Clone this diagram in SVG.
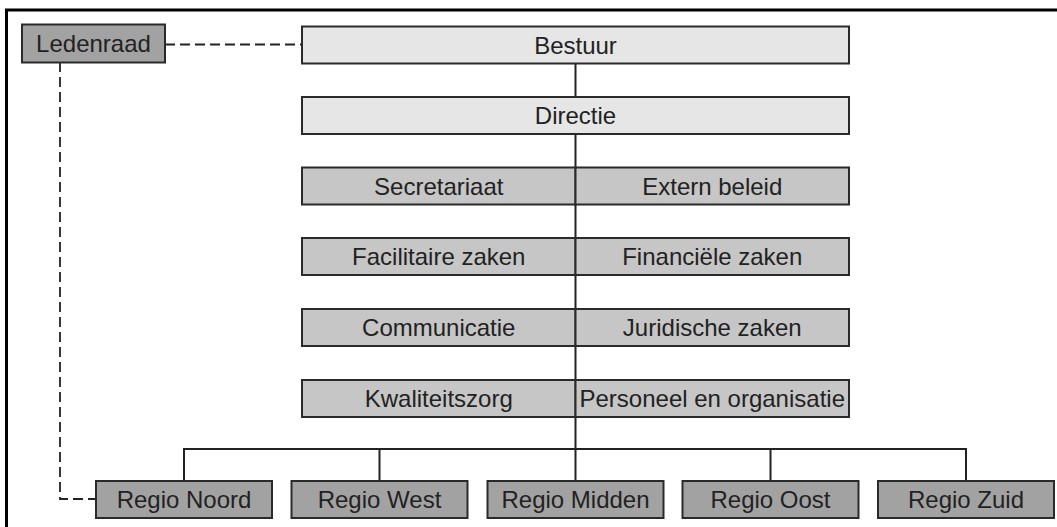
<svg xmlns="http://www.w3.org/2000/svg" width="1057" height="527" viewBox="0 0 1057 527">
<style>
.box{stroke:#2a2a2a;stroke-width:2}
.top{fill:#e6e6e6}
.dep{fill:#c6c6c6}
.reg{fill:#a2a2a2}
.t{font-family:"Liberation Sans",Arial,sans-serif;font-size:24px;fill:#222;text-anchor:middle}
.ln{stroke:#222;stroke-width:2;fill:none}
.ds{stroke:#222;stroke-width:1.8;fill:none;stroke-dasharray:10 5}
</style>
<rect x="6.5" y="10" width="1200" height="700" fill="#fff" stroke="#000" stroke-width="3"/>
<g id="connectors">
<path class="ds" d="M165 44.5H302"/>
<path class="ds" d="M60 62V499H96"/>
<path class="ln" d="M575.5 63V481"/>
<path class="ln" d="M184 481V449H966V481"/>
<path class="ln" d="M379.5 449V481M770.5 449V481"/>
</g>
<g id="ledenraad"><rect class="box reg" x="22" y="24.5" width="143" height="38"/><text class="t" x="93.5" y="52">Ledenraad</text></g>
<g id="bestuur"><rect class="box top" x="302" y="26.5" width="547" height="37"/><text class="t" x="575.5" y="53.5">Bestuur</text></g>
<g id="directie"><rect class="box top" x="302" y="97" width="547" height="37"/><text class="t" x="575.5" y="124">Directie</text></g>
<g id="secretariaat"><rect class="box dep" x="302" y="167.5" width="273.5" height="37"/><text class="t" x="438.75" y="194.5">Secretariaat</text></g>
<g id="extern-beleid"><rect class="box dep" x="575.5" y="167.5" width="273.5" height="37"/><text class="t" x="712.25" y="194.5">Extern beleid</text></g>
<g id="facilitaire-zaken"><rect class="box dep" x="302" y="238" width="273.5" height="37"/><text class="t" x="438.75" y="265">Facilitaire zaken</text></g>
<g id="financiele-zaken"><rect class="box dep" x="575.5" y="238" width="273.5" height="37"/><text class="t" x="712.25" y="265">Financiële zaken</text></g>
<g id="communicatie"><rect class="box dep" x="302" y="309" width="273.5" height="37"/><text class="t" x="438.75" y="336">Communicatie</text></g>
<g id="juridische-zaken"><rect class="box dep" x="575.5" y="309" width="273.5" height="37"/><text class="t" x="712.25" y="336">Juridische zaken</text></g>
<g id="kwaliteitszorg"><rect class="box dep" x="302" y="380" width="273.5" height="37"/><text class="t" x="438.75" y="407">Kwaliteitszorg</text></g>
<g id="personeel"><rect class="box dep" x="575.5" y="380" width="273.5" height="37"/><text class="t" x="712.25" y="407">Personeel en organisatie</text></g>
<g id="regio-noord"><rect class="box reg" x="96" y="481" width="176" height="37"/><text class="t" x="184" y="508">Regio Noord</text></g>
<g id="regio-west"><rect class="box reg" x="291.5" y="481" width="176" height="37"/><text class="t" x="379.5" y="508">Regio West</text></g>
<g id="regio-midden"><rect class="box reg" x="487.5" y="481" width="176" height="37"/><text class="t" x="575.5" y="508">Regio Midden</text></g>
<g id="regio-oost"><rect class="box reg" x="682.5" y="481" width="176" height="37"/><text class="t" x="770.5" y="508">Regio Oost</text></g>
<g id="regio-zuid"><rect class="box reg" x="878" y="481" width="176" height="37"/><text class="t" x="966" y="508">Regio Zuid</text></g>
</svg>
